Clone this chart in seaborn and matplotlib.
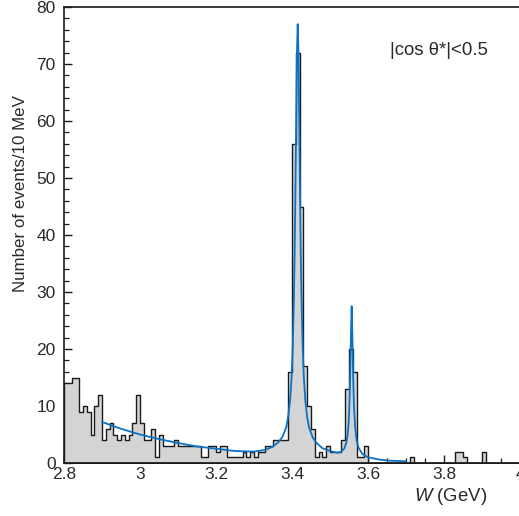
import numpy as np
import pandas as pd
import matplotlib
matplotlib.use("Agg")
import matplotlib.pyplot as plt
from matplotlib.ticker import MultipleLocator, FuncFormatter
import seaborn as sns

# ---- data ----
w_min, w_max, bin_width = 2.8, 4.0, 0.01
counts = [14, 14, 15, 15, 9, 10, 9, 5, 10, 12,
          4, 6, 7, 5, 4, 5, 4, 5, 7, 12,
          7, 4, 4, 6, 1, 5, 3, 3, 3, 4,
          3, 3, 3, 3, 3, 3, 1, 1, 3, 3,
          2, 3, 3, 1, 1, 1, 1, 2, 1, 2,
          1, 2, 2, 3, 3, 4, 4, 4, 4, 16,
          56, 72, 45, 17, 10, 6, 1, 2, 1, 3,
          2, 2, 2, 4, 13, 20, 16, 1, 1, 3,
          0, 0, 0, 0, 0, 0, 0, 0, 0, 0,
          0, 1, 0, 0, 0, 0, 0, 0, 0, 0,
          0, 0, 0, 2, 2, 1, 0, 0, 0, 0,
          2, 0, 0, 0, 0, 0, 0, 0, 0, 0]

curve_w = [2.90, 2.95, 3.00, 3.05, 3.10, 3.15, 3.20, 3.25, 3.30, 3.33,
           3.35, 3.365, 3.375, 3.385, 3.390, 3.395, 3.399, 3.402, 3.405, 3.407,
           3.409, 3.411, 3.413, 3.415, 3.417, 3.419, 3.421, 3.423, 3.425, 3.428,
           3.431, 3.435, 3.440, 3.445, 3.455, 3.465, 3.480, 3.500, 3.520, 3.530,
           3.538, 3.543, 3.546, 3.549, 3.551, 3.553, 3.555, 3.557, 3.559, 3.561,
           3.563, 3.566, 3.570, 3.575, 3.585, 3.600, 3.630, 3.660, 3.700]
curve_n = [7.2, 6.0, 5.0, 4.2, 3.5, 2.9, 2.5, 2.1, 2.0, 2.3,
           2.9, 3.7, 4.6, 6.3, 8.2, 11.0, 15.0, 20.5, 29, 37,
           48, 60, 72, 77, 72, 60, 48, 37, 29, 20.5,
           15.2, 11, 8.0, 6.2, 4.4, 3.5, 2.6, 2.1, 1.8, 2.0,
           2.6, 3.6, 4.8, 7.0, 10, 15, 22, 27.5, 22, 15,
           10, 6.5, 4.0, 2.7, 1.6, 1.0, 0.6, 0.4, 0.3]

x_ticks = [2.8, 3.0, 3.2, 3.4, 3.6, 3.8, 4.0]
y_ticks = [0, 10, 20, 30, 40, 50, 60, 70, 80]

# ---- build frames ----
n_bins = len(counts)
centers = w_min + bin_width * (np.arange(n_bins) + 0.5)
hist_df = pd.DataFrame({"W": centers, "N": counts})
curve_df = pd.DataFrame({"W": curve_w, "N": curve_n})

sns.set_theme(style="ticks")
plt.rcParams["font.family"] = ["Liberation Sans", "DejaVu Sans"]
plt.rcParams["mathtext.fontset"] = "custom"
plt.rcParams["mathtext.it"] = "Liberation Sans:italic"
plt.rcParams["mathtext.rm"] = "Liberation Sans"

text_col = "#2a2a2a"
fig = plt.figure(figsize=(5.19, 5.16), dpi=100)
ax = fig.add_axes([64 / 519, 53 / 516, 456 / 519, 456 / 516])

sns.histplot(data=hist_df, x="W", weights="N", bins=n_bins,
             binrange=(w_min, w_max), element="step",
             fill=True, color="#d4d4d4", edgecolor="#1a1a1a", linewidth=1.0,
             alpha=1, ax=ax, zorder=2)
sns.lineplot(data=curve_df, x="W", y="N", color="#0a72c6", linewidth=1.3,
             ax=ax, zorder=3, sort=True)

ax.set_xlim(w_min, w_max)
ax.set_ylim(y_ticks[0], y_ticks[-1])
ax.set_xticks(x_ticks)
ax.set_yticks(y_ticks)
ax.xaxis.set_minor_locator(MultipleLocator(0.05))
ax.yaxis.set_minor_locator(MultipleLocator(2))
ax.xaxis.set_major_formatter(FuncFormatter(lambda v, _: f"{v:g}"))
ax.tick_params(axis="both", which="major", direction="in", length=6, width=1,
               labelsize=12.5, colors="#1a1a1a", labelcolor=text_col)
ax.tick_params(axis="both", which="minor", direction="in", length=3.4, width=0.9,
               colors="#1a1a1a")
ax.tick_params(axis="y", which="major", pad=6)
ax.tick_params(axis="x", which="major", pad=3)
ax.tick_params(top=False, right=False, which="both")
for s in ax.spines.values():
    s.set_color("#1a1a1a")
    s.set_linewidth(1.2)

ax.set_ylabel("Number of events/10 MeV", fontsize=12.2, color=text_col)
ax.yaxis.set_label_coords(-0.078, 0.59)
ax.set_xlabel(r"$W$ (GeV)", fontsize=13.4, color=text_col, loc="right")
ax.xaxis.set_label_coords(0.928, -0.050)

ax.text(0.715, 0.905, "|cos θ*|<0.5", transform=ax.transAxes, fontsize=13.4,
        color=text_col, ha="left", va="center")

fig.savefig("out.png", dpi=100)
